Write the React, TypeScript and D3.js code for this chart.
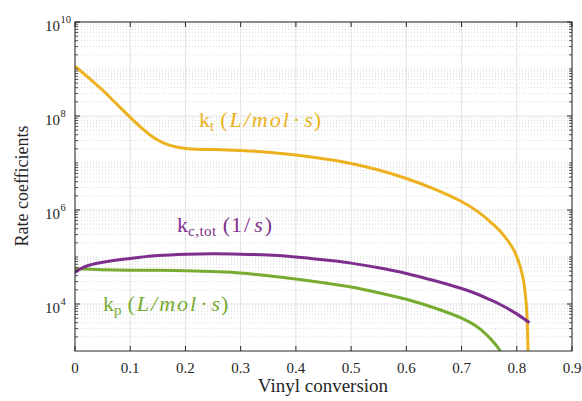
import React from "react";
import * as d3 from "d3";

const ktX = [0, 0.025, 0.05, 0.075, 0.1, 0.12, 0.14, 0.16, 0.18, 0.2, 0.22, 0.25, 0.3, 0.35, 0.4, 0.45, 0.5, 0.55, 0.6, 0.65, 0.7, 0.73, 0.75, 0.77, 0.785, 0.795, 0.8, 0.806, 0.812, 0.816, 0.818, 0.8195, 0.821];
const ktLog = [9.06, 8.81, 8.55, 8.26, 7.97, 7.75, 7.56, 7.43, 7.35, 7.31, 7.29, 7.285, 7.265, 7.23, 7.17, 7.09, 6.99, 6.85, 6.67, 6.45, 6.18, 5.96, 5.77, 5.55, 5.33, 5.14, 5.0, 4.8, 4.51, 4.15, 3.85, 3.45, 2.6];

const kcX = [0, 0.01, 0.027, 0.05, 0.1, 0.15, 0.2, 0.25, 0.3, 0.35, 0.4, 0.45, 0.5, 0.55, 0.6, 0.65, 0.7, 0.72, 0.75, 0.77, 0.8, 0.823];
const kcLog = [4.67, 4.75, 4.83, 4.89, 4.97, 5.03, 5.06, 5.07, 5.06, 5.04, 5.0, 4.94, 4.87, 4.77, 4.65, 4.5, 4.33, 4.25, 4.1, 3.99, 3.79, 3.6];

const kpX = [0, 0.05, 0.1, 0.15, 0.2, 0.25, 0.3, 0.35, 0.4, 0.45, 0.5, 0.55, 0.6, 0.65, 0.7, 0.725, 0.745, 0.76, 0.77, 0.785];
const kpLog = [4.75, 4.73, 4.72, 4.72, 4.71, 4.69, 4.66, 4.6, 4.53, 4.45, 4.36, 4.24, 4.1, 3.92, 3.7, 3.54, 3.35, 3.16, 3.0, 2.6];

const xTicks = [0, 0.1, 0.2, 0.3, 0.4, 0.5, 0.6, 0.7, 0.8, 0.9];
const xTickLabels = ["0", "0.1", "0.2", "0.3", "0.4", "0.5", "0.6", "0.7", "0.8", "0.9"];
const yTickExps = [4, 6, 8, 10];

const ORANGE = "#EDB120";
const PURPLE = "#7E2F8E";
const GREEN = "#77AC30";
const AXIS = "#262626";
const FONT = "Liberation Serif, serif";

export default function App() {
  const W = 582, H = 401;
  const L = 75, R = 572, T = 22, B = 351;
  const x = d3.scaleLinear().domain([0, 0.9]).range([L, R]);
  const y = d3.scaleLog().domain([1e3, 1e10]).range([B, T]);

  const mk = (xs: number[], ls: number[]) => xs.map((v, i) => [v, Math.pow(10, ls[i])] as [number, number]);
  const line = d3.line<[number, number]>().x(d => x(d[0])).y(d => y(d[1])).curve(d3.curveCatmullRom.alpha(0.5));

  const minorVals: number[] = [];
  for (let e = 3; e < 10; e++) {
    for (let k = 1; k <= 9; k++) {
      const v = k * Math.pow(10, e);
      if (k === 1 && e % 2 === 0) continue;
      if (v <= 1e3) continue;
      minorVals.push(v);
    }
  }
  const majorY = yTickExps.map(e => Math.pow(10, e));

  const mathLabel = (xp: number, yp: number, color: string, sub: string) => (
    <text x={xp} y={yp} fontSize={22} fill={color} style={{ fontFamily: FONT }}>
      k<tspan fontSize={15} dy={4}>{sub}</tspan>
      <tspan dy={-4} dx={6}>(</tspan>
      <tspan fontStyle="italic" dx={2} letterSpacing={2}>L/mol</tspan>
      <tspan dx={2}>·</tspan>
      <tspan fontStyle="italic" dx={4}>s</tspan>
      <tspan dx={1}>)</tspan>
    </text>
  );

  return (
    <svg width={W} height={H} style={{ position: "absolute", left: 0, top: 0, fontFamily: FONT }}>
      <rect x={0} y={0} width={W} height={H} fill="#fff" />
      <defs>
        <clipPath id="plotclip"><rect x={L} y={T} width={R - L} height={B - T} /></clipPath>
      </defs>
      {minorVals.map((v, i) => (
        <line key={"mg" + i} x1={L} x2={R} y1={y(v)} y2={y(v)} stroke="#c8c8c8" strokeWidth={0.7} strokeDasharray="1,2" />
      ))}
      {xTicks.map((t, i) => (
        <line key={"gx" + i} x1={x(t)} x2={x(t)} y1={T} y2={B} stroke="#e3e3e3" strokeWidth={1} />
      ))}
      {majorY.map((v, i) => (
        <line key={"gy" + i} x1={L} x2={R} y1={y(v)} y2={y(v)} stroke="#e3e3e3" strokeWidth={1} />
      ))}
      <g clipPath="url(#plotclip)" fill="none" strokeWidth={3} strokeLinejoin="round">
        <path d={line(mk(ktX, ktLog)) || ""} stroke={ORANGE} />
        <path d={line(mk(kpX, kpLog)) || ""} stroke={GREEN} />
        <path d={line(mk(kcX, kcLog)) || ""} stroke={PURPLE} />
      </g>
      <rect x={L} y={T} width={R - L} height={B - T} fill="none" stroke={AXIS} strokeWidth={1} />
      {xTicks.map((t, i) => (
        <g key={"xt" + i}>
          <line x1={x(t)} x2={x(t)} y1={B} y2={B - 5} stroke={AXIS} />
          <line x1={x(t)} x2={x(t)} y1={T} y2={T + 5} stroke={AXIS} />
          <text x={x(t)} y={373} textAnchor="middle" fontSize={15} fill={AXIS}>{xTickLabels[i]}</text>
        </g>
      ))}
      {majorY.map((v, i) => (
        <g key={"yt" + i}>
          <line x1={L} x2={L + 5} y1={y(v)} y2={y(v)} stroke={AXIS} />
          <line x1={R} x2={R - 5} y1={y(v)} y2={y(v)} stroke={AXIS} />
          <text x={60} y={y(v) + 9} textAnchor="end" fontSize={15} fill={AXIS}>10</text>
          <text x={60.5} y={y(v) + 1} textAnchor="start" fontSize={10.5} fill={AXIS}>{yTickExps[i]}</text>
        </g>
      ))}
      {minorVals.map((v, i) => (
        <g key={"ym" + i}>
          <line x1={L} x2={L + 3} y1={y(v)} y2={y(v)} stroke={AXIS} strokeWidth={0.8} />
          <line x1={R} x2={R - 3} y1={y(v)} y2={y(v)} stroke={AXIS} strokeWidth={0.8} />
        </g>
      ))}
      <text x={323} y={392} textAnchor="middle" fontSize={19} fill={AXIS}>Vinyl conversion</text>
      <text transform="translate(28,186) rotate(-90)" textAnchor="middle" fontSize={18} fill={AXIS}>Rate coefficients</text>
      {mathLabel(199, 127, ORANGE, "t")}
      <text x={177} y={232} fontSize={22} fill={PURPLE}>
        k<tspan fontSize={15} dy={4} letterSpacing={0.5}>c,tot</tspan>
        <tspan dy={-4} dx={6}>(</tspan>
        <tspan dx={1} letterSpacing={2}>1/</tspan>
        <tspan fontStyle="italic" dx={2}>s</tspan>
        <tspan dx={2}>)</tspan>
      </text>
      {mathLabel(103, 311, GREEN, "p")}
    </svg>
  );
}
